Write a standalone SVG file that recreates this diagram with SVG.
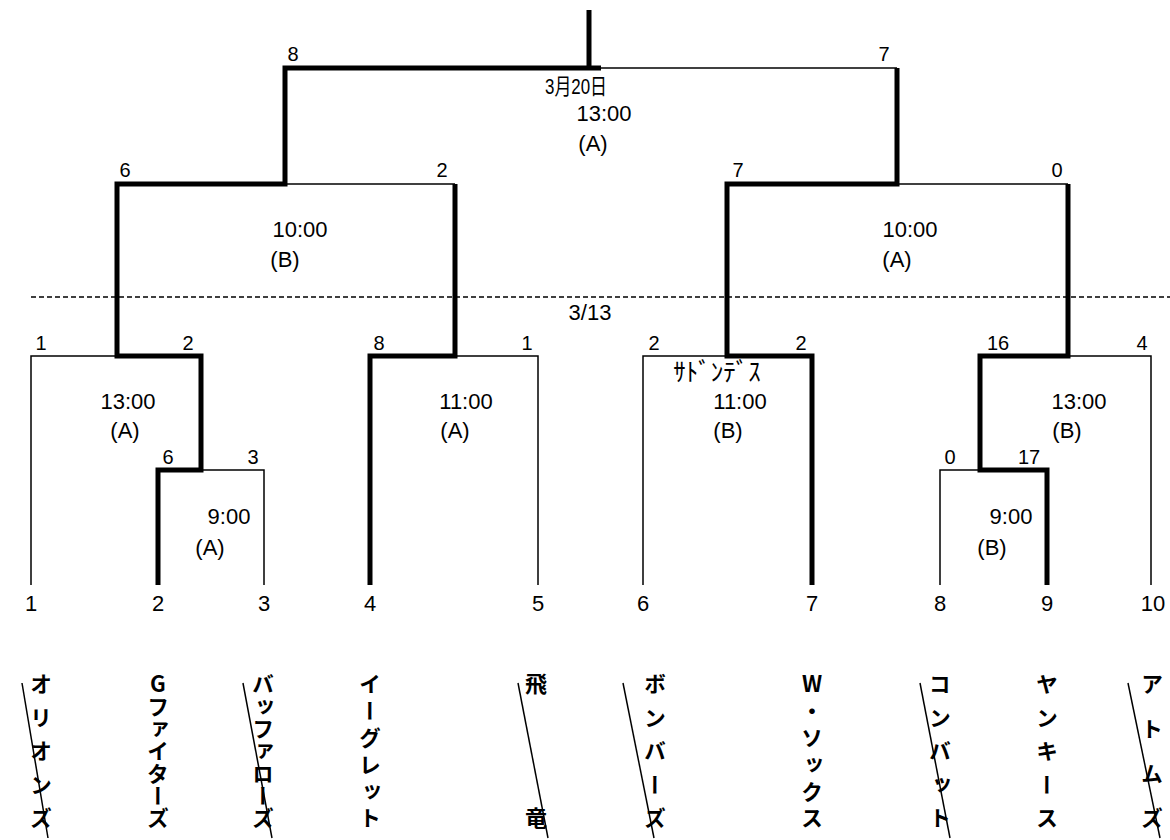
<svg xmlns="http://www.w3.org/2000/svg" width="1170" height="840" viewBox="0 0 1170 840">
<style>
.thick{fill:none;stroke:#000;stroke-width:5;stroke-linejoin:miter}
.thin{fill:none;stroke:#000;stroke-width:1.5}
.dash{fill:none;stroke:#000;stroke-width:1.5;stroke-dasharray:5 3}
.sc{font-family:"Liberation Sans","Noto Sans CJK JP",sans-serif;font-size:20px;fill:#000;text-anchor:middle}
.tm{font-family:"Liberation Sans","Noto Sans CJK JP",sans-serif;font-size:22px;fill:#000;text-anchor:middle}
.num{font-family:"Liberation Sans",sans-serif;font-size:22px;fill:#000;text-anchor:middle}
.nm{font-family:"Noto Sans CJK JP",sans-serif;font-size:22px;font-weight:bold;fill:#000;text-anchor:middle;writing-mode:vertical-rl;text-orientation:upright}
</style>
<g id="connectors">
<path class="thin" d="M589 68 H897"/>
<path class="thin" d="M285 184 H455"/>
<path class="thin" d="M897 184 H1068"/>
<path class="thin" d="M31 585 V356 H117"/>
<path class="thin" d="M264 585 V470 H201"/>
<path class="thin" d="M538 585 V356 H455"/>
<path class="thin" d="M643 585 V356 H727"/>
<path class="thin" d="M940 585 V470 H980"/>
<path class="thin" d="M1151 585 V356 H1068"/>
<path class="dash" d="M31 297 H1170"/>
<path class="thick" d="M589 10 V68"/>
<path class="thick" d="M158 585 V470 H201 V356 H117 V184 H285 V68 H601"/>
<path class="thick" d="M370 585 V356 H455 V184"/>
<path class="thick" d="M812 585 V356 H727 V184 H897 V68"/>
<path class="thick" d="M1047 585 V470 H980 V356 H1068 V184"/>
</g>
<g id="final">
<text class="sc" x="293" y="61">8</text>
<text class="sc" x="884" y="61">7</text>
<text class="tm" x="576" y="94" textLength="62" lengthAdjust="spacingAndGlyphs">3月20日</text>
<text class="tm" x="604" y="121">13:00</text>
<text class="tm" x="593" y="151">(A)</text>
</g>
<g id="semi-left">
<text class="sc" x="125" y="177">6</text>
<text class="sc" x="442" y="177">2</text>
<text class="tm" x="300" y="237">10:00</text>
<text class="tm" x="285" y="267">(B)</text>
</g>
<g id="semi-right">
<text class="sc" x="738" y="177">7</text>
<text class="sc" x="1057" y="177">0</text>
<text class="tm" x="910" y="237">10:00</text>
<text class="tm" x="897" y="267">(A)</text>
</g>
<g id="date-3-13">
<text class="tm" x="590" y="320">3/13</text>
</g>
<g id="game-1">
<text class="sc" x="41" y="350">1</text>
<text class="sc" x="188" y="350">2</text>
<text class="tm" x="128" y="409">13:00</text>
<text class="tm" x="125" y="438">(A)</text>
</g>
<g id="game-sub-left">
<text class="sc" x="168" y="464">6</text>
<text class="sc" x="253" y="464">3</text>
<text class="tm" x="229" y="524">9:00</text>
<text class="tm" x="210" y="555">(A)</text>
</g>
<g id="game-2">
<text class="sc" x="379" y="350">8</text>
<text class="sc" x="527" y="350">1</text>
<text class="tm" x="466" y="409">11:00</text>
<text class="tm" x="455" y="438">(A)</text>
</g>
<g id="game-3">
<text class="sc" x="654" y="350">2</text>
<text class="sc" x="801" y="350">2</text>
<text class="tm" x="717" y="381" style="font-size:25px">ｻﾄﾞﾝﾃﾞｽ</text>
<text class="tm" x="740" y="409">11:00</text>
<text class="tm" x="728" y="438">(B)</text>
</g>
<g id="game-4">
<text class="sc" x="998" y="350">16</text>
<text class="sc" x="1142" y="350">4</text>
<text class="tm" x="1079" y="409">13:00</text>
<text class="tm" x="1067" y="438">(B)</text>
</g>
<g id="game-sub-right">
<text class="sc" x="950" y="464">0</text>
<text class="sc" x="1029" y="464">17</text>
<text class="tm" x="1011" y="524">9:00</text>
<text class="tm" x="992" y="555">(B)</text>
</g>
<g id="numbers">
<text class="num" x="31" y="611">1</text>
<text class="num" x="158" y="611">2</text>
<text class="num" x="264" y="611">3</text>
<text class="num" x="370" y="611">4</text>
<text class="num" x="538" y="611">5</text>
<text class="num" x="643" y="611">6</text>
<text class="num" x="812" y="611">7</text>
<text class="num" x="940" y="611">8</text>
<text class="num" x="1047" y="611">9</text>
<text class="num" x="1153" y="611">10</text>
</g>
<g id="team-1">
<text class="nm" x="41" y="684 717.5 751 784.5 818">オリオンズ</text>
<path class="thin" d="M22 683 L48 838"/>
</g>
<g id="team-2">
<text class="nm" x="158" y="684 706.3 728.7 751 773.3 795.7 818">Gファイターズ</text>
</g>
<g id="team-3">
<text class="nm" x="263" y="684 706.3 728.7 751 773.3 795.7 818">バッファローズ</text>
<path class="thin" d="M243 683 L272 838"/>
</g>
<g id="team-4">
<text class="nm" x="370" y="684 710.8 737.6 764.4 791.2 818">イーグレット</text>
</g>
<g id="team-5">
<text class="nm" x="536" y="684 818">飛竜</text>
<path class="thin" d="M518 683 L548 838"/>
</g>
<g id="team-6">
<text class="nm" x="655" y="684 717.5 751 784.5 818">ボンバーズ</text>
<path class="thin" d="M623 683 L654 838"/>
</g>
<g id="team-7">
<text class="nm" x="812" y="684 710.8 737.6 764.4 791.2 818">W・ソックス</text>
</g>
<g id="team-8">
<text class="nm" x="940" y="684 717.5 751 784.5 818">コンバット</text>
<path class="thin" d="M920 683 L950 838"/>
</g>
<g id="team-9">
<text class="nm" x="1047" y="684 717.5 751 784.5 818">ヤンキース</text>
</g>
<g id="team-10">
<text class="nm" x="1152" y="684 728.7 773.3 818">アトムズ</text>
<path class="thin" d="M1128 683 L1160 838"/>
</g>
</svg>
